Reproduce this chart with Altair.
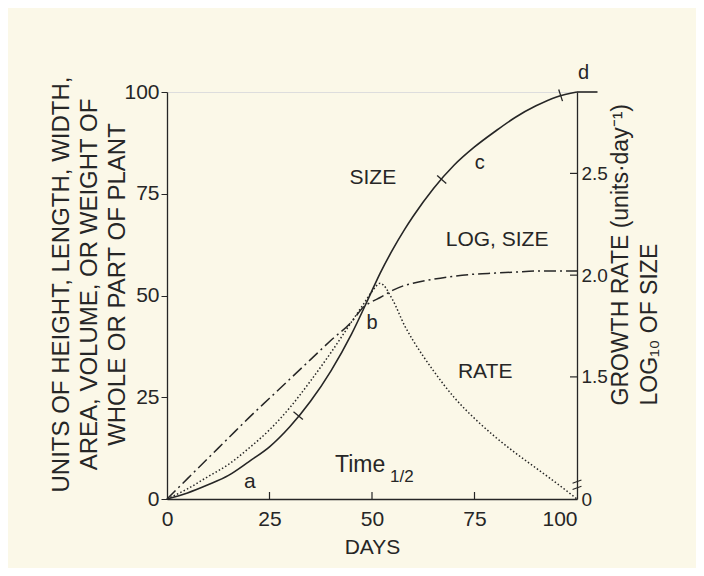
import altair as alt
import pandas as pd

# ---- data ----
days = [0, 5, 10, 15, 20, 25, 30, 35, 40, 45, 48, 50, 52, 55, 58, 60, 65, 70, 75, 80, 85, 90, 95, 100]
size_units = [0, 1.5, 3.5, 5.8, 9.2, 12.8, 17.8, 24, 31.5, 40.5, 46.8, 51.2, 55.5, 61.2, 66.3, 69.4, 76.3, 82.0, 86.5, 90.3, 93.8, 96.6, 98.8, 100]
rate_units = [0, 2.5, 5.5, 8.5, 12.5, 17, 22.5, 29, 36, 43.5, 48, 51, 53, 49, 42.5, 39, 31.5, 25, 19.8, 15.3, 11.3, 7.6, 3.9, 0]
log_size = [0.9, 1.0, 1.1, 1.2, 1.3, 1.395, 1.49, 1.585, 1.68, 1.77, 1.845, 1.87, 1.89, 1.925, 1.95, 1.96, 1.98, 1.995, 2.005, 2.01, 2.015, 2.02, 2.02, 2.02]

# short continuation of the size curve past the right axis
tail_days = [100, 105]
tail_size = [100, 100]

x_tick_values = [25, 50, 75]
x_label_values = [0, 25, 50, 75, 100]
left_tick_values = [0, 25, 50, 75, 100]
right_label_values = [0.9, 1.5, 2.0, 2.5]
right_tick_values = [1.5, 2.0, 2.5]
break_values = [0.955, 0.985]

mark_days = [32, 67, 96]
mark_size = [20.5, 78.5, 99.2]
mark_angle = [40, 42, 72]

ann_text = ["SIZE", "c", "LOG, SIZE", "b", "RATE", "Time", "1/2", "a", "d"]
ann_day = [50.2, 76.3, 80.5, 50.0, 77.6, 47.1, 57.3, 20.2, 101.6]
ann_units = [78.9, 82.6, 63.6, 43.2, 31.2, 8.4, 5.3, 4.2, 104.7]
ann_fsize = [21, 20, 21, 20, 21, 23, 17, 21, 20]

W, H = 410, 407
INK = "#262626"
FONT = "Liberation Sans"
BG = "#fbf8e8"

curves = pd.DataFrame({"day": days, "size": size_units, "rate": rate_units, "logsize": log_size})
tail = pd.DataFrame({"day": tail_days, "size": tail_size})
xt = pd.DataFrame({"day": x_tick_values})
rt = pd.DataFrame({"v": right_tick_values})
brk = pd.DataFrame({"day": [100] * len(break_values), "v": break_values})
marks = pd.DataFrame({"day": mark_days, "size": mark_size, "ang": mark_angle})
ann = pd.DataFrame({"t": ann_text, "day": ann_day, "u": ann_units, "fs": ann_fsize})

x_axis = alt.Axis(values=x_label_values, ticks=False, grid=False, labelFontSize=21, labelPadding=9,
                  labelFlush=False, labelAlign={"expr": "datum.value == 100 ? 'right' : 'center'"},
                  labelColor=INK, domainColor=INK, domainWidth=1.3,
                  title="DAYS", titleFontSize=21, titleFontWeight="normal", titleColor=INK, titlePadding=7)
x_enc = alt.X("day:Q", scale=alt.Scale(domain=[0, 100], nice=False, zero=False), axis=x_axis)

left_scale = alt.Scale(domain=[0, 100], nice=False, zero=False)
right_scale = alt.Scale(domain=[0.9, 2.9], nice=False, zero=False)

size_line = alt.Chart(curves).mark_line(color=INK, strokeWidth=1.6, interpolate="monotone").encode(
    x=x_enc,
    y=alt.Y("size:Q", scale=left_scale, axis=alt.Axis(
        orient="left", values=left_tick_values, tickSize=6, labelPadding=2, labelFontSize=21,
        labelColor=INK, domainColor=INK, domainWidth=1.3, tickColor=INK, grid=False,
        title=["UNITS OF HEIGHT, LENGTH, WIDTH,", "AREA, VOLUME, OR WEIGHT OF", "WHOLE OR PART OF PLANT"],
        titleFontSize=24, titleFontWeight="normal", titleColor=INK, titleAngle=270,
        titleX=-118, titleY=192, titleBaseline="top", titleAlign="center", titleLineHeight=28)),
)

size_tail = alt.Chart(tail).mark_line(color=INK, strokeWidth=1.6).encode(
    x=x_enc,
    y=alt.Y("size:Q", scale=left_scale, axis=None),
)

rate_line = alt.Chart(curves).mark_line(color=INK, strokeWidth=1.5, strokeDash=[1.5, 2.2], interpolate="monotone").encode(
    x=x_enc,
    y=alt.Y("rate:Q", scale=left_scale, axis=None),
)

log_line = alt.Chart(curves).mark_line(color=INK, strokeWidth=1.5, strokeDash=[12, 4, 2, 4], interpolate="monotone").encode(
    x=x_enc,
    y=alt.Y("logsize:Q", scale=right_scale, axis=alt.Axis(
        orient="right", values=right_label_values,
        labelExpr="datum.value < 1 ? '0' : format(datum.value, '.1f')",
        ticks=False, labelPadding=4, labelFontSize=19, labelColor=INK, domainColor=INK, domainWidth=1.3,
        grid=False, title=["GROWTH RATE (units\u00b7day\u207b\u00b9)", "LOG\u2081\u2080 OF SIZE"],
        titleFont=FONT, titleFontSize=23, titleFontWeight="normal", titleColor=INK, titleAngle=270,
        titleX=32, titleY=313, titleAlign="left", titleBaseline="top", titleLineHeight=29)),
)

x_ticks = alt.Chart(xt).mark_rule(color=INK, strokeWidth=1.2).encode(
    x=x_enc, y=alt.value(H), y2=alt.value(H - 7)
)

right_ticks = alt.Chart(rt).mark_rule(color=INK, strokeWidth=1.2).encode(
    x=alt.value(W - 7), x2=alt.value(W),
    y=alt.Y("v:Q", scale=right_scale, axis=None),
)

axis_break = alt.Chart(brk).mark_point(shape="stroke", size=90, color=INK, strokeWidth=1.1, filled=False, opacity=1, angle=340).encode(
    x=x_enc,
    y=alt.Y("v:Q", scale=right_scale, axis=None),
)

curve_marks = alt.Chart(marks).mark_point(shape="stroke", size=150, color=INK, strokeWidth=1.3, filled=False, opacity=1).encode(
    x=x_enc,
    y=alt.Y("size:Q", scale=left_scale, axis=None),
    angle=alt.Angle("ang:Q", scale=None),
)

labels = alt.Chart(ann).mark_text(color=INK, font=FONT, align="center", baseline="middle").encode(
    x=x_enc,
    y=alt.Y("u:Q", scale=left_scale, axis=None),
    text="t:N",
    size=alt.Size("fs:Q", scale=None),
)

chart = alt.layer(size_line, size_tail, rate_line, log_line, x_ticks, right_ticks, axis_break, curve_marks, labels).resolve_scale(
    y="independent"
).properties(
    width=W, height=H,
    padding={"left": 159, "top": 84, "right": 119, "bottom": 69},
    autosize=alt.AutoSizeParams(type="none"),
    background=BG,
).configure_view(strokeWidth=0).configure(font=FONT)

chart.save("out.html", embed_options={"renderer": "svg", "actions": False})
